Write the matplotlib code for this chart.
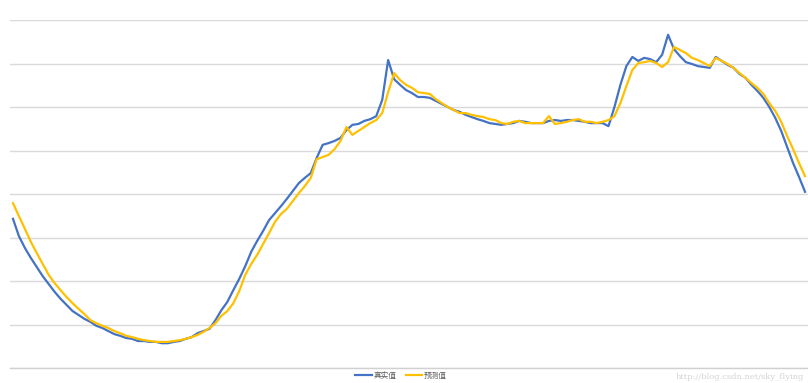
import matplotlib
matplotlib.use("Agg")
import matplotlib.pyplot as plt

plt.rcParams['font.family'] = ['Noto Sans CJK SC', 'DejaVu Sans']

# Observed vs. predicted series (134 consecutive samples)
actual = [
    3.43, 3.03, 2.76, 2.53, 2.32, 2.11, 1.93, 1.75, 1.59, 1.45,
    1.31, 1.22, 1.13, 1.06, 0.97, 0.92, 0.85, 0.78, 0.74, 0.69,
    0.67, 0.62, 0.62, 0.60, 0.60, 0.57, 0.57, 0.60, 0.62, 0.67,
    0.71, 0.80, 0.85, 0.90, 1.10, 1.33, 1.52, 1.79, 2.05, 2.34,
    2.67, 2.92, 3.15, 3.40, 3.56, 3.72, 3.89, 4.07, 4.25, 4.37,
    4.48, 4.83, 5.13, 5.17, 5.22, 5.29, 5.47, 5.59, 5.61, 5.68,
    5.72, 5.79, 6.16, 7.08, 6.64, 6.51, 6.39, 6.32, 6.23, 6.23,
    6.21, 6.14, 6.07, 6.00, 5.93, 5.89, 5.82, 5.77, 5.72, 5.68,
    5.63, 5.61, 5.59, 5.61, 5.63, 5.68, 5.66, 5.63, 5.63, 5.63,
    5.68, 5.70, 5.68, 5.70, 5.70, 5.68, 5.66, 5.63, 5.63, 5.63,
    5.56, 6.00, 6.51, 6.94, 7.15, 7.06, 7.13, 7.10, 7.03, 7.20,
    7.66, 7.33, 7.17, 7.03, 6.99, 6.94, 6.92, 6.90, 7.15, 7.06,
    6.97, 6.90, 6.76, 6.67, 6.51, 6.37, 6.21, 6.00, 5.75, 5.45,
    5.08, 4.71, 4.39, 4.05,
]

predicted = [
    3.79, 3.49, 3.20, 2.90, 2.64, 2.39, 2.14, 1.95, 1.79, 1.63,
    1.49, 1.36, 1.24, 1.10, 1.03, 0.97, 0.92, 0.85, 0.80, 0.74,
    0.71, 0.67, 0.64, 0.62, 0.60, 0.60, 0.60, 0.62, 0.64, 0.67,
    0.71, 0.76, 0.83, 0.92, 1.03, 1.20, 1.31, 1.49, 1.77, 2.14,
    2.39, 2.60, 2.85, 3.10, 3.36, 3.54, 3.66, 3.84, 4.02, 4.18,
    4.37, 4.80, 4.85, 4.90, 5.03, 5.22, 5.54, 5.36, 5.45, 5.54,
    5.63, 5.70, 5.86, 6.34, 6.78, 6.62, 6.51, 6.44, 6.34, 6.32,
    6.30, 6.18, 6.09, 6.00, 5.93, 5.86, 5.86, 5.82, 5.79, 5.77,
    5.72, 5.70, 5.63, 5.61, 5.66, 5.68, 5.63, 5.63, 5.63, 5.63,
    5.79, 5.61, 5.63, 5.66, 5.70, 5.72, 5.66, 5.66, 5.63, 5.66,
    5.70, 5.79, 6.09, 6.48, 6.85, 7.01, 7.03, 7.06, 7.01, 6.92,
    7.03, 7.38, 7.31, 7.24, 7.13, 7.08, 7.01, 6.94, 7.13, 7.06,
    6.99, 6.90, 6.78, 6.67, 6.55, 6.44, 6.30, 6.09, 5.91, 5.66,
    5.33, 5.03, 4.71, 4.41,
]

series_labels = ["真实值", "预测值"]
series_colors = ["#4472C4", "#FFC000"]

W, H = 808, 383
fig = plt.figure(figsize=(W / 100, H / 100), dpi=100)
ax = fig.add_axes([10 / W, 15 / H, 1 - 10 / W, (368 - 20) / H])

x = list(range(len(actual)))
ax.plot(x, actual, color=series_colors[0], lw=1.6, label=series_labels[0],
        solid_joinstyle="round", zorder=3)
ax.plot(x, predicted, color=series_colors[1], lw=1.6, label=series_labels[1],
        solid_joinstyle="round", zorder=3)

ax.set_xlim(-0.5, len(actual) - 0.5)
ax.set_ylim(0, 8)
ax.set_yticks(range(0, 9))
ax.grid(axis="y", color="#D9D9D9", lw=1.0)
ax.set_axisbelow(True)
ax.tick_params(left=False, bottom=False, labelleft=False, labelbottom=False)
for side in ["top", "right", "left"]:
    ax.spines[side].set_visible(False)
ax.spines["bottom"].set_color("#D0D0D0")
ax.spines["bottom"].set_linewidth(1.0)

fig.legend(loc="center", bbox_to_anchor=(401 / W, 1 - 376 / H), ncol=2,
           frameon=False, fontsize=5.5, handlelength=2.2, handletextpad=0.2,
           columnspacing=1.2, labelcolor="#595959")

fig.text(676 / W, 1 - 377 / H, "http://blog.csdn.net/sky_flying",
         family="DejaVu Serif", fontsize=6, color="#D4D4D4", va="center")

fig.savefig("out.png", dpi=100)
